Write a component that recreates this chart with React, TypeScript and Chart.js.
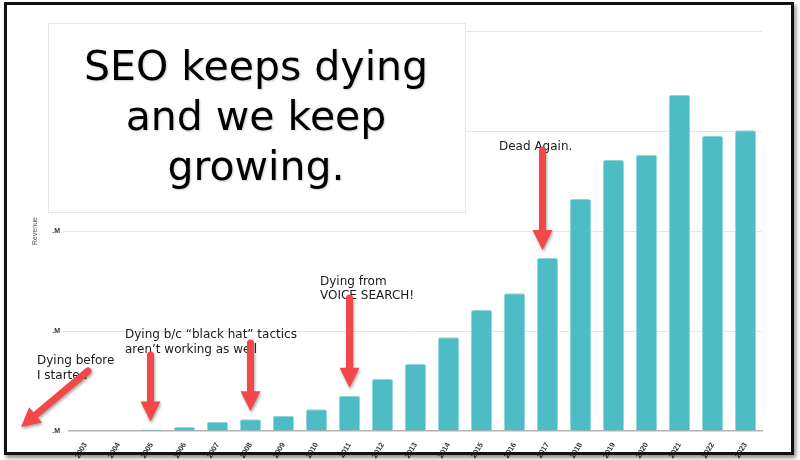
import React, { useEffect, useRef } from 'react';
import { Chart, registerables } from 'chart.js';

Chart.register(...registerables);

const years = ['2003', '2004', '2005', '2006', '2007', '2008', '2009', '2010', '2011', '2012', '2013', '2014', '2015', '2016', '2017', '2018', '2019', '2020', '2021', '2022', '2023'];
const revenue = [0, 0.003, 0.015, 0.04, 0.093, 0.117, 0.153, 0.217, 0.353, 0.52, 0.67, 0.937, 1.21, 1.377, 1.73, 2.32, 2.71, 2.763, 3.36, 2.95, 3.007];
const yTickLabel = '.M';
const yAxisTitle = 'Revenue';
const titleLines = ['SEO keeps dying', 'and we keep', 'growing.'];
const noteBefore = ['Dying before', 'I started'];
const noteBlackHat = ['Dying b/c \u201cblack hat\u201d tactics', 'aren\u2019t working as well'];
const noteVoice = ['Dying from', 'VOICE SEARCH!'];
const noteDead = ['Dead Again.'];
const arrowYears = ['2005', '2008', '2011', '2017'];

const RED = '#f24848';
const FONT = '"DejaVu Sans", "Noto Sans", sans-serif';

function drawArrow(ctx: CanvasRenderingContext2D, x1: number, y1: number, x2: number, y2: number, shaftW: number, headW: number, headL: number) {
  const ang = Math.atan2(y2 - y1, x2 - x1);
  const len = Math.hypot(x2 - x1, y2 - y1);
  ctx.save();
  ctx.translate(x1, y1);
  ctx.rotate(ang);
  ctx.beginPath();
  ctx.moveTo(0, -shaftW / 2);
  ctx.lineTo(len - headL, -shaftW / 2);
  ctx.lineTo(len - headL, -headW / 2);
  ctx.lineTo(len, 0);
  ctx.lineTo(len - headL, headW / 2);
  ctx.lineTo(len - headL, shaftW / 2);
  ctx.lineTo(0, shaftW / 2);
  ctx.arc(0, 0, shaftW / 2, Math.PI / 2, -Math.PI / 2);
  ctx.closePath();
  ctx.fillStyle = RED;
  ctx.shadowColor = 'rgba(0,0,0,0.35)';
  ctx.shadowBlur = 3;
  ctx.shadowOffsetX = 1;
  ctx.shadowOffsetY = 2;
  ctx.fill();
  ctx.restore();
}

function drawLines(ctx: CanvasRenderingContext2D, lines: string[], x: number, y: number, lh: number) {
  lines.forEach((l, i) => ctx.fillText(l, x, y + i * lh));
}

const overlayPlugin = {
  id: 'seoOverlay',
  afterDraw(chart: any) {
    const ctx: CanvasRenderingContext2D = chart.ctx;
    const xs = chart.scales.x;
    const ys = chart.scales.y;
    ctx.save();
    // title box
    ctx.fillStyle = '#ffffff';
    ctx.fillRect(48, 23, 417, 189);
    ctx.strokeStyle = '#e8e8e8';
    ctx.lineWidth = 1;
    ctx.strokeRect(48.5, 23.5, 417, 189);
    ctx.fillStyle = '#000';
    ctx.textAlign = 'center';
    ctx.textBaseline = 'alphabetic';
    ctx.font = `41px ${FONT}`;
    ctx.shadowColor = 'rgba(0,0,0,0.2)';
    ctx.shadowBlur = 2;
    ctx.shadowOffsetX = 1;
    ctx.shadowOffsetY = 1;
    titleLines.forEach((l, i) => ctx.fillText(l, 256, 80 + i * 50));
    ctx.restore();

    // annotations
    ctx.save();
    ctx.fillStyle = '#1a1a1a';
    ctx.textAlign = 'left';
    ctx.textBaseline = 'middle';
    ctx.font = `12px ${FONT}`;
    drawLines(ctx, noteBefore, 37, 361, 14.5);
    drawLines(ctx, noteBlackHat, 125, 335, 14.5);
    drawLines(ctx, noteVoice, 320, 282, 14);
    drawLines(ctx, noteDead, 499, 147, 14);
    ctx.restore();

    // arrows
    drawArrow(ctx, 88, 371, 21, 427, 7, 20, 19);
    const tails = [355, 343, 298, 150];
    const dx = [-1, 0, 0, -5];
    arrowYears.forEach((yr, i) => {
      const idx = years.indexOf(yr);
      const x = xs.getPixelForValue(idx) + dx[i];
      const top = ys.getPixelForValue(revenue[idx]);
      drawArrow(ctx, x, tails[i], x, top - 8, 7, 20, 20);
    });
  },
};

export default function App() {
  const ref = useRef<HTMLCanvasElement>(null);
  useEffect(() => {
    if (!ref.current) return;
    const chart = new Chart(ref.current, {
      type: 'bar',
      data: {
        labels: years,
        datasets: [
          {
            label: yAxisTitle,
            data: revenue,
            backgroundColor: '#4dbcc5',
            borderColor: '#8fd6db',
            borderWidth: 1,
            borderRadius: 2,
            borderSkipped: 'bottom',
            barPercentage: 0.64,
            categoryPercentage: 1,
          },
        ],
      },
      options: {
        responsive: false,
        animation: false,
        devicePixelRatio: 1,
        layout: { padding: { left: 31, right: 38, top: 31, bottom: 0 } },
        plugins: { legend: { display: false }, tooltip: { enabled: false }, title: { display: false } },
        scales: {
          x: {
            grid: { display: false },
            border: { display: true, color: '#b3b3b3', width: 1.5 },
            ticks: {
              autoSkip: false,
              minRotation: 60,
              maxRotation: 60,
              padding: 2,
              color: '#333',
              font: { family: '"Liberation Sans", Arial, sans-serif', size: 7.5, weight: 'bold' },
            },
            afterFit: (s: any) => { s.height = 29; },
          },
          y: {
            min: 0,
            max: 4,
            border: { display: false },
            grid: {
              color: (c: any) => (c.tick && c.tick.value === 0 ? 'rgba(0,0,0,0)' : '#e6e6e6'),
              tickLength: 6,
              drawTicks: true,
            },
            ticks: {
              stepSize: 1,
              padding: 3,
              color: '#333',
              font: { family: '"Liberation Sans", Arial, sans-serif', size: 7, weight: 'bold' },
              callback: () => yTickLabel,
            },
            title: {
              display: true,
              text: yAxisTitle,
              color: '#555',
              padding: 0,
              font: { family: '"Liberation Sans", Arial, sans-serif', size: 7 },
            },
            afterFit: (s: any) => { s.width = 38; },
          },
        },
      },
      plugins: [overlayPlugin],
    } as any);
    return () => chart.destroy();
  }, []);
  return (
    <div style={{ position: 'fixed', left: 0, top: 0, width: 800, height: 460, background: '#fff' }}>
      <canvas ref={ref} width={800} height={460} style={{ position: 'absolute', left: 0, top: 0 }} />
      <div
        style={{
          position: 'absolute',
          left: 4,
          top: 2,
          width: 790,
          height: 453,
          boxSizing: 'border-box',
          border: '3px solid #111',
          boxShadow: '2px 3px 4px rgba(0,0,0,0.45)',
          pointerEvents: 'none',
        }}
      />
    </div>
  );
}
